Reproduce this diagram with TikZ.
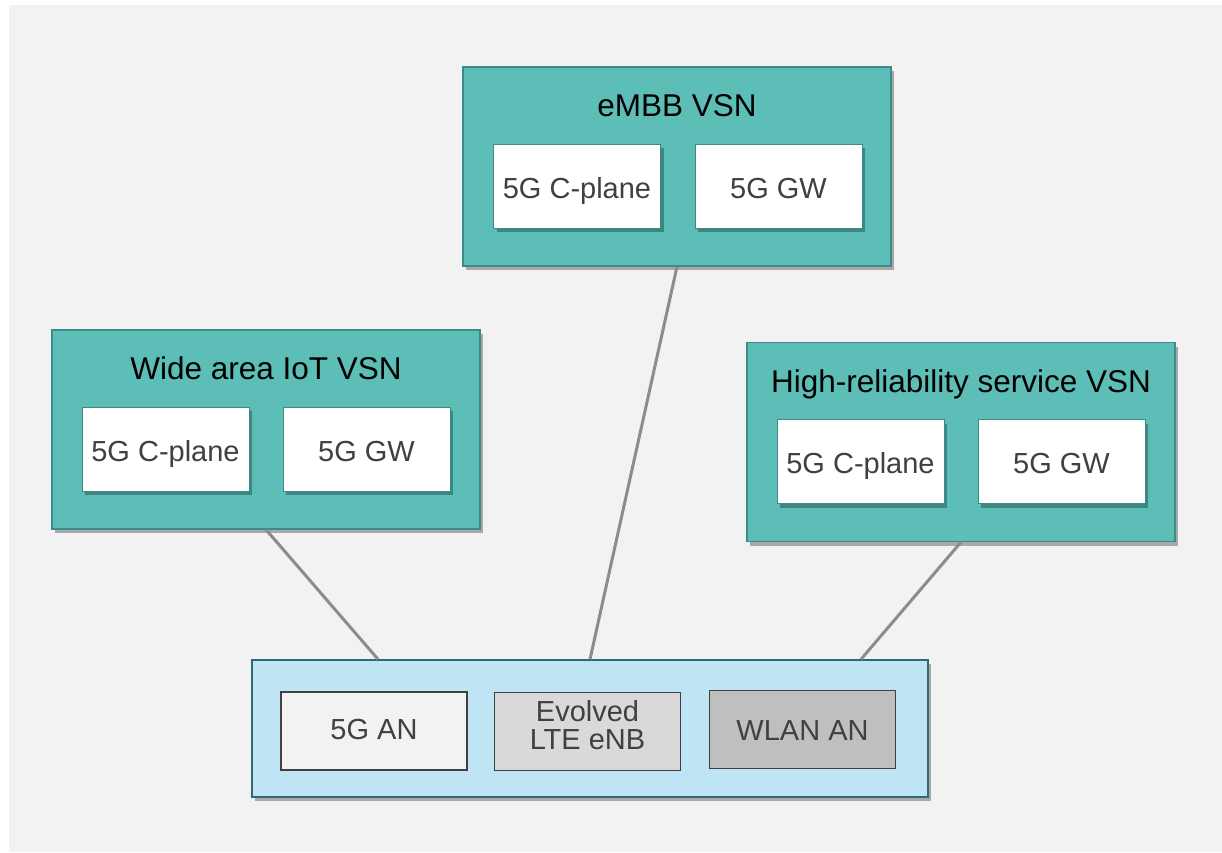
\documentclass[tikz,border=0pt]{standalone}
\usepackage{fontspec}
\setmainfont{Liberation Sans}
\usetikzlibrary{shadows}
\definecolor{bg}{HTML}{F2F2F2}
\definecolor{tealf}{HTML}{5DBEB7}
\definecolor{teald}{HTML}{3B8C86}
\definecolor{ranf}{HTML}{BFE5F5}
\definecolor{rand}{HTML}{2D6A78}
\definecolor{txt}{HTML}{404040}
\definecolor{linec}{HTML}{8C8C8C}
\definecolor{an1}{HTML}{F2F2F2}
\definecolor{an2}{HTML}{D9D9D9}
\definecolor{an3}{HTML}{BFBFBF}
\begin{document}
\begin{tikzpicture}[x=1pt,y=-1pt,
  vsn/.style={draw=teald, fill=tealf, line width=1.2pt, inner sep=0pt,
    minimum width=428pt, minimum height=199pt,
    drop shadow={shadow xshift=3pt, shadow yshift=-4pt, fill=black, opacity=0.3}},
  innerbox/.style={draw=teald, fill=white, line width=1pt, inner sep=0pt,
    minimum width=167pt, minimum height=84pt, text=txt,
    text height=24.8pt, text depth=0pt,
    font=\fontsize{29}{34}\selectfont,
    drop shadow={shadow xshift=3pt, shadow yshift=-4pt, fill=teald!70!black, opacity=0.6}},
  vsntitle/.style={font=\fontsize{31.5}{36}\selectfont, text=black, inner sep=0pt,
    text height=22.6pt, text depth=0pt},
  ranbox/.style={draw=rand, fill=ranf, line width=1.5pt, inner sep=0pt,
    minimum width=676pt, minimum height=137pt,
    drop shadow={shadow xshift=3pt, shadow yshift=-4pt, fill=black, opacity=0.3}},
  anbox/.style={draw=txt, line width=1.2pt, inner sep=0pt,
    minimum width=186pt, minimum height=78pt, text=txt,
    font=\fontsize{29}{28}\selectfont},
  antext/.style={inner sep=0pt, align=center, text=txt,
    font=\fontsize{29}{28}\selectfont},
  conn/.style={draw=linec, line width=3pt}
]
\fill[white] (0,0) rectangle (1222,852);
\fill[bg] (9,5) rectangle (1222,852);
\useasboundingbox (0,0) rectangle (1222,852);

% eMBB
\node[vsn] (embb) at (677,166.5) {};
\node[vsntitle] (embbt) at (677,105) {eMBB VSN};
\node[innerbox] (embbc) at (577,186) {5G C-plane};
\node[innerbox] (embbg) at (778.5,186) {5G GW};

% Wide area IoT
\node[vsn] (iot) at (266,429.5) {};
\node[vsntitle] (iott) at (266,368) {Wide area IoT VSN};
\node[innerbox] (iotc) at (165.5,449) {5G C-plane};
\node[innerbox] (iotg) at (366.5,449) {5G GW};

% High reliability
\node[vsn] (hr) at (961,442) {};
\node[vsntitle] (hrt) at (961,381) {High-reliability service VSN};
\node[innerbox] (hrc) at (860.5,461.5) {5G C-plane};
\node[innerbox] (hrg) at (1061.5,461.5) {5G GW};

% RAN
\node[ranbox] (ran) at (590,728.5) {};
\node[anbox, fill=an1, text height=17.2pt, text depth=0pt] (an5g) at (374,731) {5G AN};
\node[anbox, fill=an2] (lte) at (587.5,731.5) {};
\node[antext] (ltet) at (587.5,725.3) {Evolved\\LTE eNB};
\node[anbox, fill=an3, text height=21.6pt, text depth=0pt] (wlan) at (802.5,729.5) {WLAN AN};

% connectors
\draw[conn] (iot.south) -- ([xshift=-212pt]ran.north);
\draw[conn] (embb.south) -- (ran.north);
\draw[conn] (hr.south) -- ([xshift=271pt]ran.north);
\end{tikzpicture}
\end{document}
